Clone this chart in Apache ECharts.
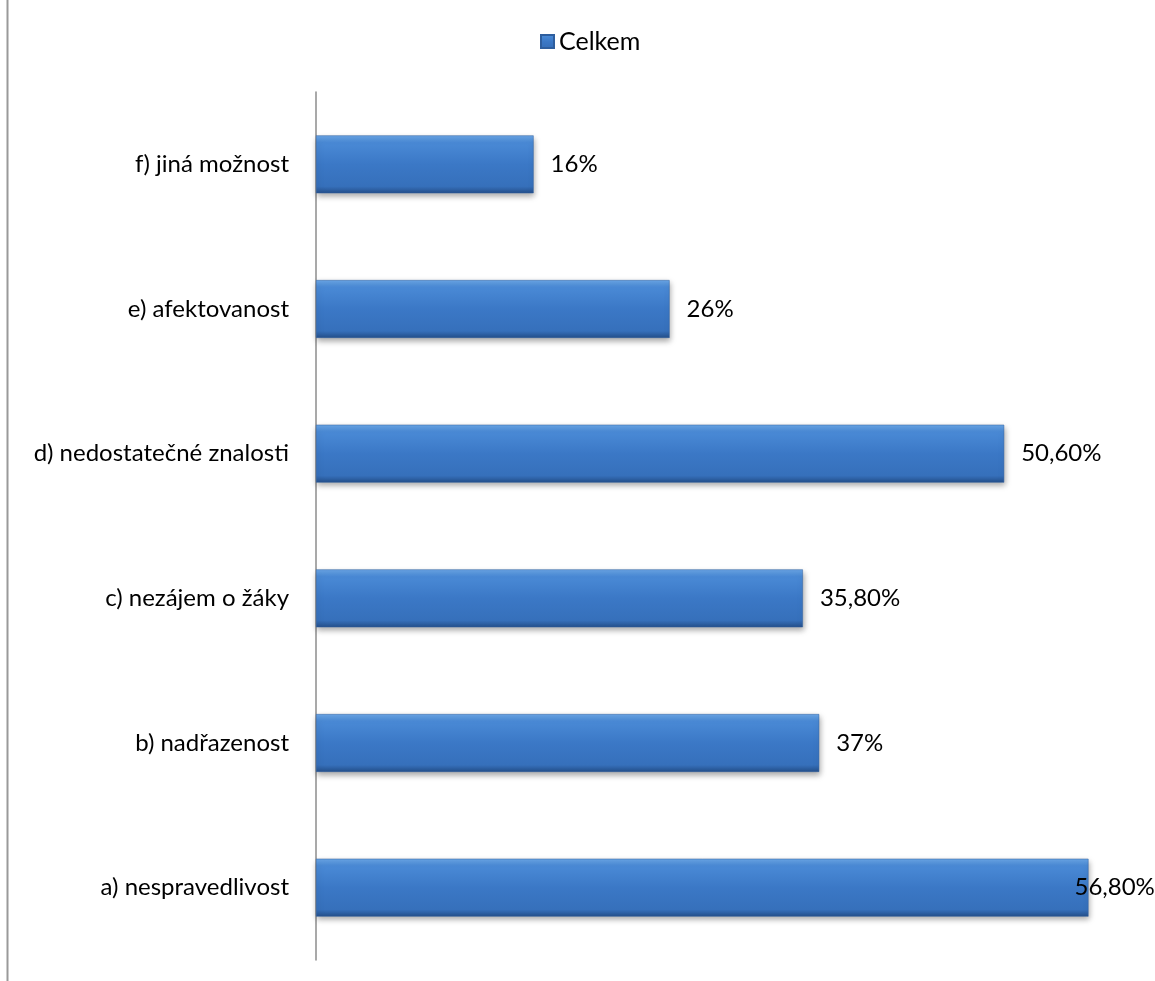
<!DOCTYPE html>
<html><head><meta charset="utf-8">
<script src="https://cdn.jsdelivr.net/npm/echarts@6/dist/echarts.min.js"></script>
<style>html,body{margin:0;padding:0;background:#fff}#c{width:1155px;height:981px}</style>
</head><body><div id="c"></div>
<script>
const categories = ['a) nespravedlivost','b) nadřazenost','c) nezájem o žáky','d) nedostatečné znalosti','e) afektovanost','f) jiná možnost'];
const values = [56.8, 37, 35.8, 50.6, 26, 16];
const valueLabels = ['56,80%','37%','35,80%','50,60%','26%','16%'];
const seriesName = 'Celkem';

const chart = echarts.init(document.getElementById('c'));
const barColor = new echarts.graphic.LinearGradient(0,0,0,1,[
  {offset:0, color:'#6aa6e6'},
  {offset:0.12, color:'#4a8ad6'},
  {offset:0.5, color:'#3b78c6'},
  {offset:0.88, color:'#3670bb'},
  {offset:1, color:'#244f8a'}
]);
chart.setOption({
  animation:false,
  textStyle:{fontFamily:'Lato'},
  legend:{top:24, left:535, itemWidth:13, itemHeight:13, itemGap:4, icon:'rect',
    textStyle:{fontSize:25, color:'#000', fontFamily:'Lato'}, data:[seriesName]},
  grid:{left:316, right:23, top:92, bottom:21, containLabel:false},
  xAxis:{type:'value', min:0, max:60, show:false},
  yAxis:{type:'category', data:categories,
    axisLine:{lineStyle:{color:'#8c8c8c', width:1.5}},
    axisTick:{show:false},
    axisLabel:{fontSize:24, color:'#000', margin:27, fontFamily:'Lato'}},
  series:[{
    name:seriesName, type:'bar', barWidth:'40%',
    data: values.map((v,i)=> i===0 ? {value:v, label:{distance:-14}} : v),
    itemStyle:{color:barColor, borderColor:'#2e5e9e', borderWidth:0.5,
      shadowColor:'rgba(0,0,0,0.35)', shadowBlur:6, shadowOffsetY:3, shadowOffsetX:1},
    label:{show:true, position:'right', distance:17, fontSize:24, color:'#000', fontFamily:'Lato',
      formatter:p=>valueLabels[p.dataIndex]}
  }],
  graphic:[{type:'line', shape:{x1:7.5,y1:0,x2:7.5,y2:981}, style:{stroke:'#9a9a9a', lineWidth:2}}]
});
</script></body></html>
